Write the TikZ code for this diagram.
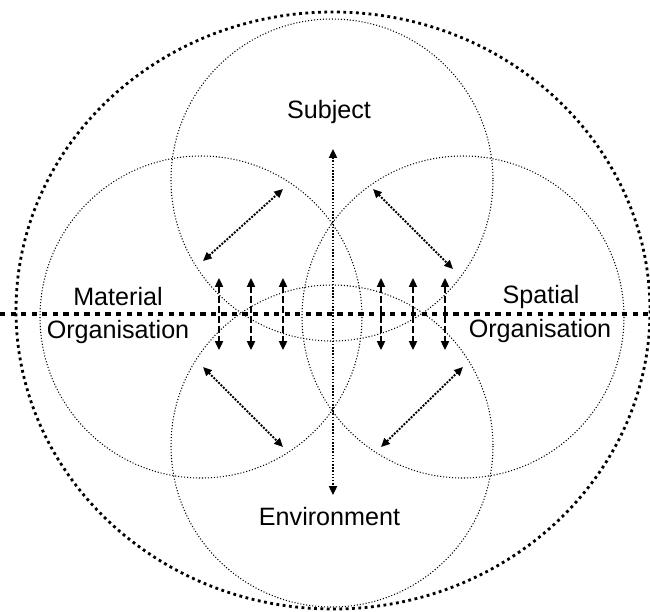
\documentclass[tikz,border=0pt]{standalone}
\usepackage{fontspec}
\setmainfont{Liberation Sans}
\usetikzlibrary{arrows.meta}
\tikzset{
  ring/.style={line width=0.6pt,dash pattern=on 0.6pt off 1.1pt},
  outerring/.style={line width=1.6pt,dash pattern=on 1.6pt off 2pt},
  divide/.style={line width=2.8pt,dash pattern=on 3pt off 3pt},
  link/.style={line width=1.1pt,dash pattern=on 1.1pt off 0.8pt,{Triangle[length=5pt,width=4.5pt]}-{Triangle[length=5pt,width=4.5pt]}},
  flow/.style={line width=1.1pt,dash pattern=on 4pt off 1.7pt,{Triangle[length=5pt,width=4.5pt]}-{Triangle[length=5pt,width=4.5pt]}},
  lab/.style={font=\fontsize{14.3}{17}\selectfont,anchor=base,inner sep=0pt}
}
\begin{document}
\begin{tikzpicture}[x=0.02cm,y=-0.02cm]
\useasboundingbox (0,0) rectangle (650,612);
\draw [outerring] (333,310.5) ellipse [x radius=317,y radius=298.5];
\draw [ring] (332,180) circle (161);
\draw [ring] (332,446) circle (161);
\draw [ring] (201,317) circle (161);
\draw [ring] (463,317) circle (161);
\coordinate (west) at (0,314);
\coordinate (east) at (650,314);
\draw [divide] (west) -- (east);
\node [lab] (subject) at (329,118) {Subject};
\node [lab] (environment) at (329.5,525) {Environment};
\node [lab] (material) at (118,305) {Material};
\node [lab] (matorg) at (118,338) {Organisation};
\node [lab] (spatial) at (541,303) {Spatial};
\node [lab] (spaorg) at (540,337) {Organisation};
\coordinate (axtop) at (333,149);
\coordinate (axbot) at (333,495);
\draw [link,dash pattern=on 0.9pt off 0.9pt,line width=1.1pt] (axtop) -- (axbot);
\coordinate (ula) at (203,261);
\coordinate (ulb) at (283,189);
\coordinate (ura) at (373,189);
\coordinate (urb) at (453,269);
\coordinate (lla) at (203,367);
\coordinate (llb) at (283,447);
\coordinate (lra) at (381,447);
\coordinate (lrb) at (463,367);
\draw [link] (ula) -- (ulb);
\draw [link] (ura) -- (urb);
\draw [link] (lla) -- (llb);
\draw [link] (lra) -- (lrb);
\foreach \x [count=\i] in {219,251,283,381,413,445}{
  \coordinate (up\i) at (\x,278);
  \coordinate (dn\i) at (\x,350);
  \draw [flow] (up\i) -- (dn\i);
}
\end{tikzpicture}
\end{document}
